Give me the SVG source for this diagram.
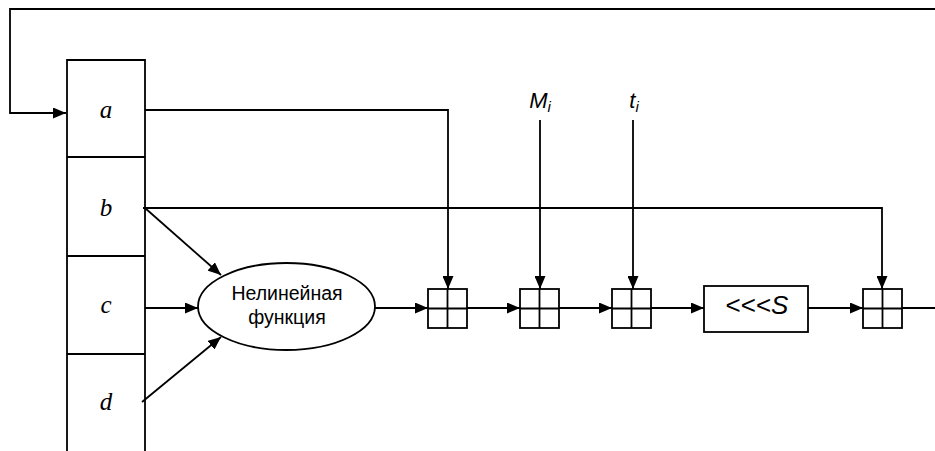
<svg xmlns="http://www.w3.org/2000/svg" width="935" height="451" viewBox="0 0 935 451">
<defs>
<marker id="ah" markerWidth="13" markerHeight="11" refX="13" refY="5.5" orient="auto" markerUnits="userSpaceOnUse">
<path d="M0,0 L13,5.5 L0,11 Z" fill="#000"/>
</marker>
<style>
.ln{fill:none;stroke:#000;stroke-width:1.8}
.bx{fill:#fff;stroke:#000;stroke-width:1.8}
.ar{fill:none;stroke:#000;stroke-width:1.8;marker-end:url(#ah)}
.reg{font-family:"Liberation Serif",serif;font-style:italic;font-size:25px;text-anchor:middle}
.sans{font-family:"Liberation Sans",Arial,sans-serif;text-anchor:middle}
</style>
</defs>
<rect width="935" height="451" fill="#fff"/>
<g id="register">
<path class="ln" d="M67,451 L67,60 L145,60 L145,451 M67,157 L145,157 M67,256 L145,256 M67,354 L145,354"/>
<text class="reg" x="106" y="118">a</text>
<text class="reg" x="106" y="216">b</text>
<text class="reg" x="106" y="313">c</text>
<text class="reg" x="106" y="410">d</text>
</g>
<g id="connectors">
<path class="ar" d="M935,9 L10,9 L10,113 L66,113"/>
<path class="ar" d="M145,110 L448,110 L448,289"/>
<path class="ar" d="M143,208 L882,208 L882,289"/>
<path class="ar" d="M145,208 L221,275"/>
<path class="ar" d="M145,308 L198,308"/>
<path class="ar" d="M142,402 L221,337"/>
<path class="ar" d="M375,308 L428,308"/>
<path class="ar" d="M467,308 L520,308"/>
<path class="ar" d="M559,308 L612,308"/>
<path class="ar" d="M651,308 L704,308"/>
<path class="ar" d="M808,308 L863,308"/>
<path class="ar" d="M540,120 L540,289"/>
<path class="ar" d="M633,120 L633,289"/>
<path class="ln" d="M902,308 L935,308"/>
</g>
<g id="nonlinear">
<ellipse class="bx" cx="286.5" cy="306.5" rx="88.5" ry="43.5"/>
<text class="sans" x="287" y="300" font-size="19.5">Нелинейная</text>
<text class="sans" x="287" y="324" font-size="19.5">функция</text>
</g>
<g id="add1">
<rect class="bx" x="428" y="289" width="39" height="39"/>
<path class="ln" d="M447.5,289 V328 M428,308.5 H467"/>
</g>
<g id="add2">
<rect class="bx" x="520" y="289" width="39" height="39"/>
<path class="ln" d="M539.5,289 V328 M520,308.5 H559"/>
</g>
<g id="add3">
<rect class="bx" x="612" y="289" width="39" height="39"/>
<path class="ln" d="M631.5,289 V328 M612,308.5 H651"/>
</g>
<g id="add4">
<rect class="bx" x="863" y="289" width="39" height="39"/>
<path class="ln" d="M882.5,289 V328 M863,308.5 H902"/>
</g>
<g id="rotate">
<rect class="bx" x="704" y="286" width="104" height="46"/>
<text class="sans" x="757" y="314" font-size="26">&lt;&lt;&lt;<tspan font-style="italic">S</tspan></text>
</g>
<g id="labels">
<text class="sans" x="540" y="108" font-size="22" font-style="italic">M<tspan font-size="15" dy="4">i</tspan></text>
<text class="sans" x="634" y="108" font-size="22" font-style="italic">t<tspan font-size="15" dy="4">i</tspan></text>
</g>
</svg>
